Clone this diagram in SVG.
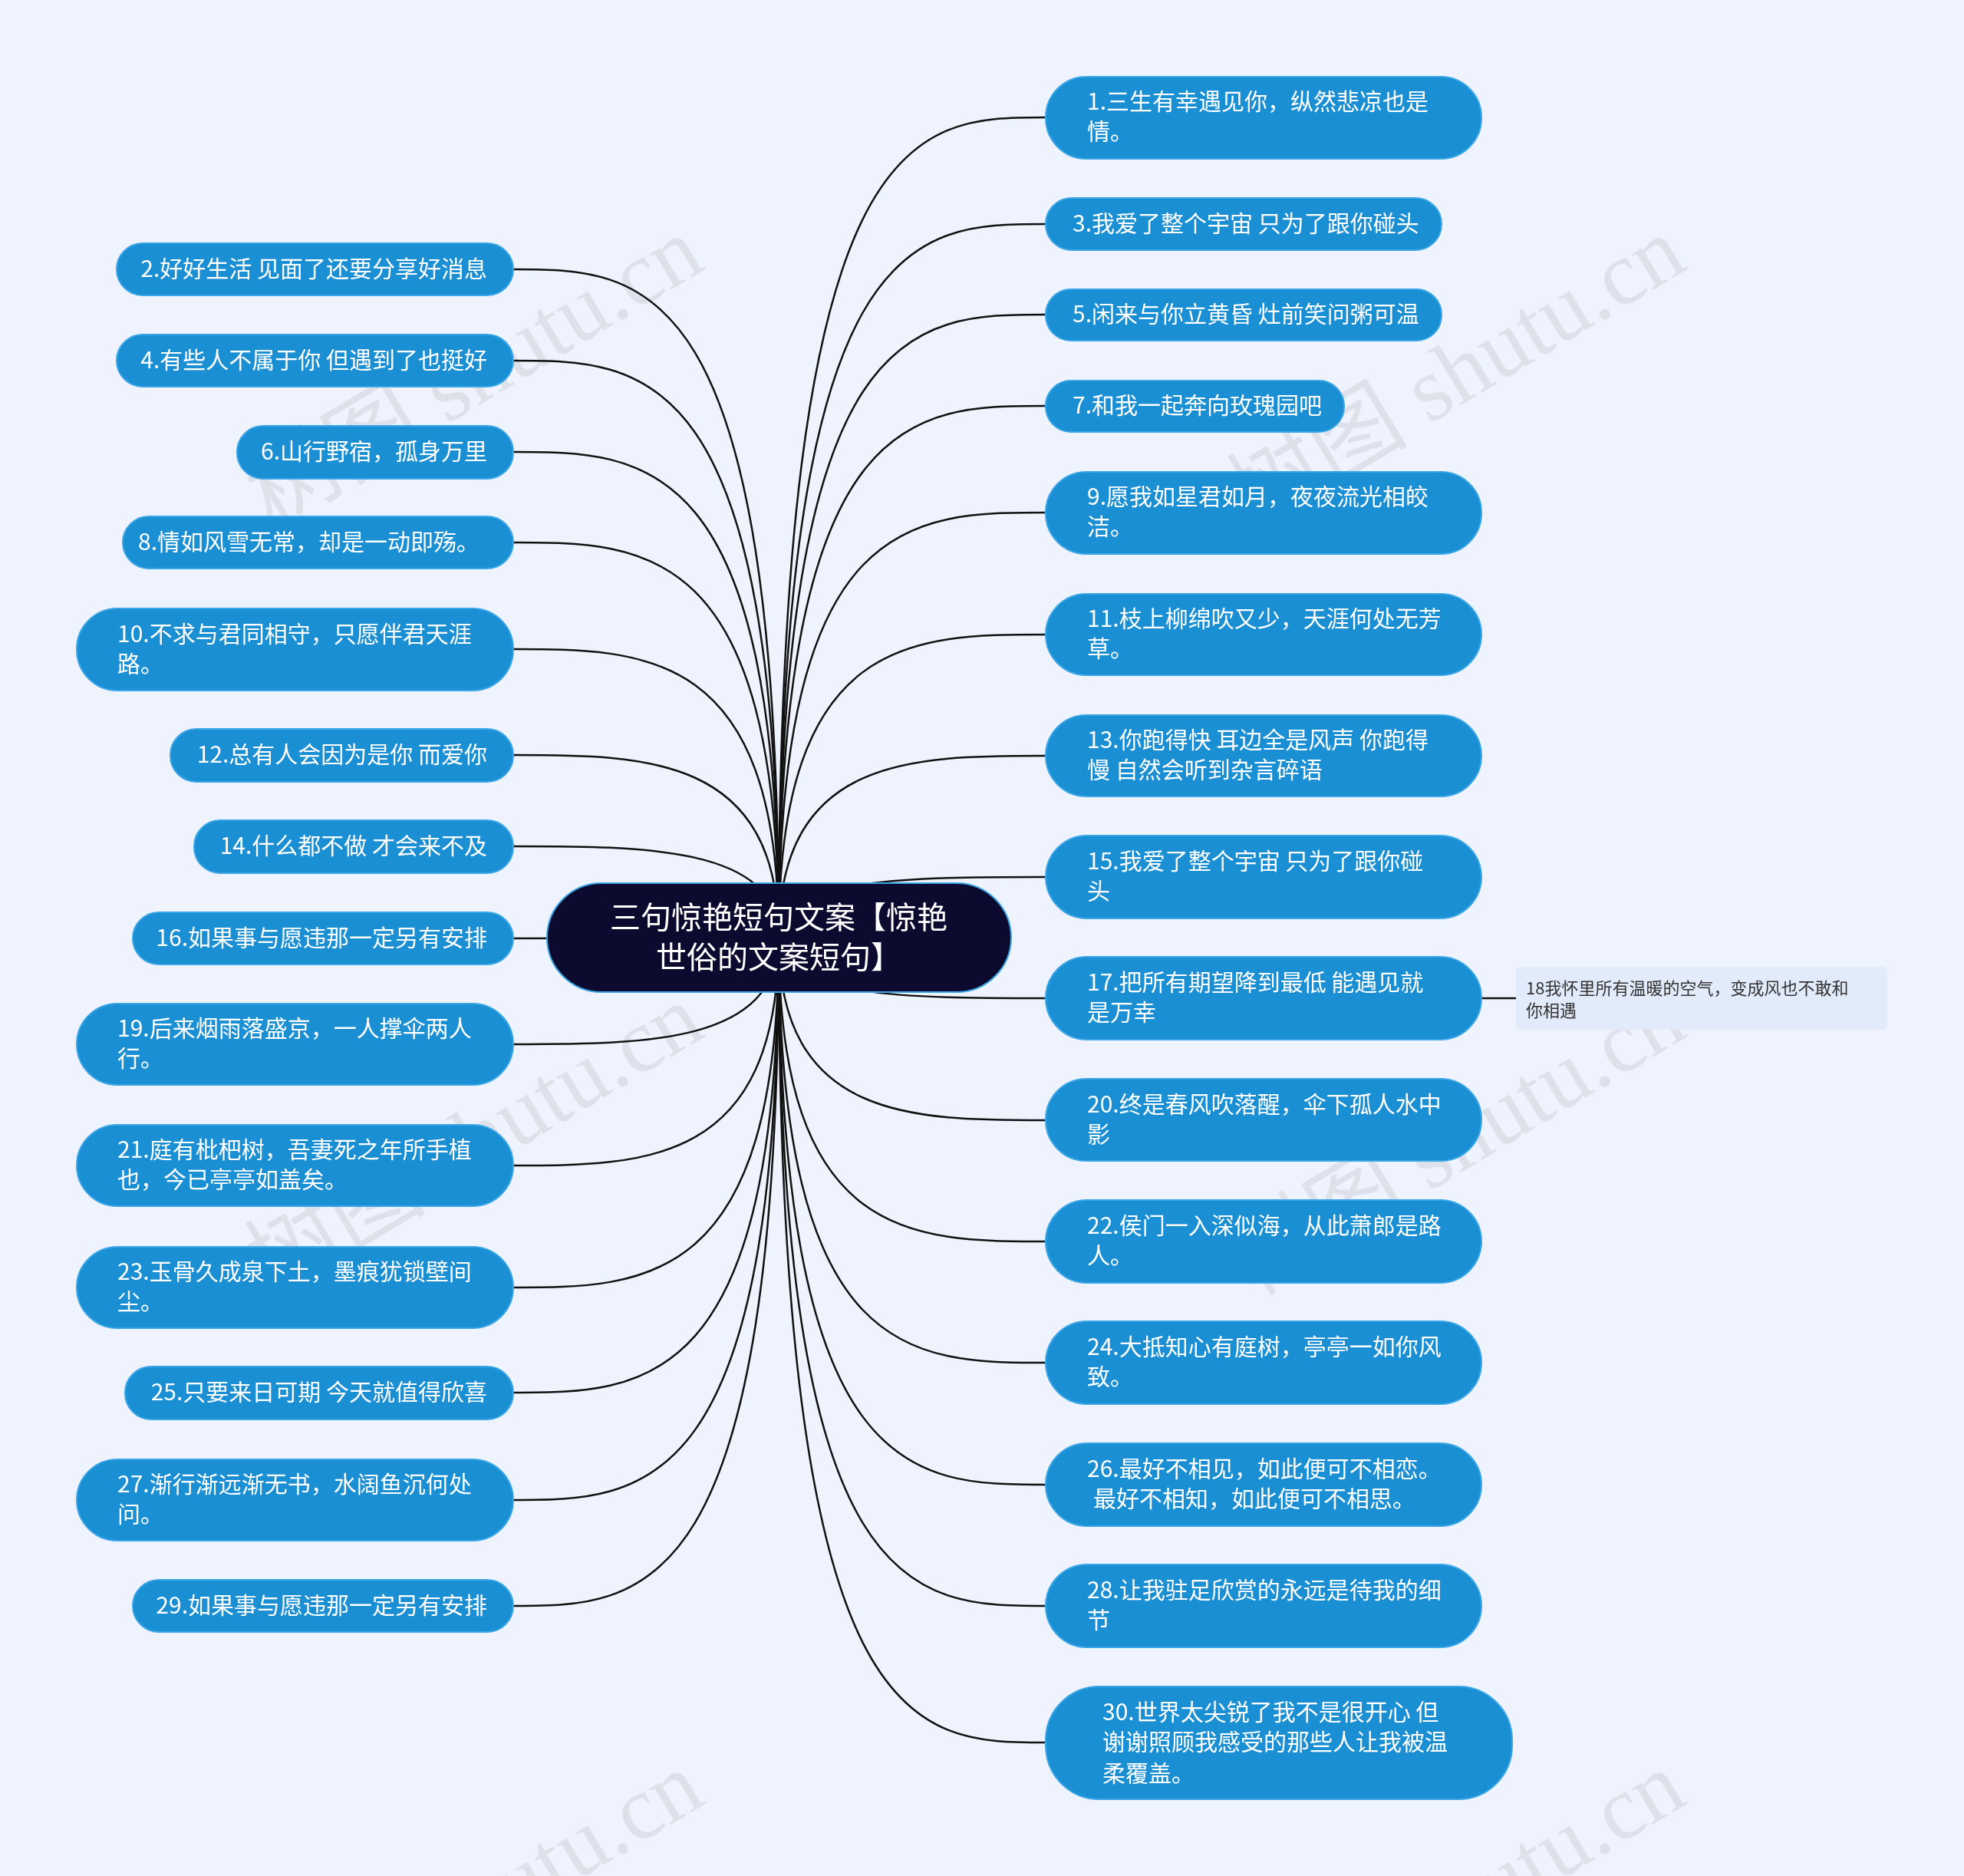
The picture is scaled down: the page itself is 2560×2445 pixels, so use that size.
<svg xmlns="http://www.w3.org/2000/svg" width="2560" height="2445" viewBox="0 0 2560 2445">
<style>
.n{fill:#1a8fd3;stroke:#3aa6e6;stroke-width:2}
.t{fill:#fff;font-family:"Noto Sans CJK SC","Noto Sans",sans-serif;font-size:30px}
.e{text-anchor:end}
.c{fill:none;stroke:#111;stroke-width:2.5}
.w{fill:#c9ccd3;opacity:.45;font-family:"Liberation Serif","Noto Sans CJK SC",serif;font-size:118px}
</style>
<rect width="2560" height="2445" fill="#eef3fd"/>
<g class="w">
<text transform="translate(355,690) rotate(-31)">树图 shutu.cn</text>
<text transform="translate(1635,690) rotate(-31)">树图 shutu.cn</text>
<text transform="translate(355,1690) rotate(-31)">树图 shutu.cn</text>
<text transform="translate(1635,1690) rotate(-31)">树图 shutu.cn</text>
<text transform="translate(355,2690) rotate(-31)">树图 shutu.cn</text>
<text transform="translate(1635,2690) rotate(-31)">树图 shutu.cn</text>
</g>
<g id="connectors">
<path class="c" d="M1015 1222C1015 153 1190 153 1363 153"/>
<path class="c" d="M1015 1222C1015 292 1190 292 1363 292"/>
<path class="c" d="M1015 1222C1015 410 1190 410 1363 410"/>
<path class="c" d="M1015 1222C1015 529 1190 529 1363 529"/>
<path class="c" d="M1015 1222C1015 668 1190 668 1363 668"/>
<path class="c" d="M1015 1222C1015 827 1190 827 1363 827"/>
<path class="c" d="M1015 1222C1015 985 1190 985 1363 985"/>
<path class="c" d="M1015 1222C1015 1143 1190 1143 1363 1143"/>
<path class="c" d="M1015 1222C1015 1301 1190 1301 1363 1301"/>
<path class="c" d="M1015 1222C1015 1460 1190 1460 1363 1460"/>
<path class="c" d="M1015 1222C1015 1618 1190 1618 1363 1618"/>
<path class="c" d="M1015 1222C1015 1776 1190 1776 1363 1776"/>
<path class="c" d="M1015 1222C1015 1935 1190 1935 1363 1935"/>
<path class="c" d="M1015 1222C1015 2093 1190 2093 1363 2093"/>
<path class="c" d="M1015 1222C1015 2271 1190 2271 1363 2271"/>
<path class="c" d="M1015 1222C1015 351 840 351 669 351"/>
<path class="c" d="M1015 1222C1015 470 840 470 669 470"/>
<path class="c" d="M1015 1222C1015 589 840 589 669 589"/>
<path class="c" d="M1015 1222C1015 707 840 707 669 707"/>
<path class="c" d="M1015 1222C1015 846 840 846 669 846"/>
<path class="c" d="M1015 1222C1015 984 840 984 669 984"/>
<path class="c" d="M1015 1222C1015 1103 840 1103 669 1103"/>
<path class="c" d="M1015 1222C1015 1223 840 1223 669 1223"/>
<path class="c" d="M1015 1222C1015 1361 840 1361 669 1361"/>
<path class="c" d="M1015 1222C1015 1519 840 1519 669 1519"/>
<path class="c" d="M1015 1222C1015 1678 840 1678 669 1678"/>
<path class="c" d="M1015 1222C1015 1815 840 1815 669 1815"/>
<path class="c" d="M1015 1222C1015 1955 840 1955 669 1955"/>
<path class="c" d="M1015 1222C1015 2093 840 2093 669 2093"/>
<path class="c" d="M1931 1301H1976"/>
</g>
<g id="center"><rect x="713" y="1151" width="605" height="142" rx="71" fill="#0c0a2e" stroke="#3aa6e6" stroke-width="2"/>
<text class="t" x="1015" y="1210" text-anchor="middle" style="font-size:40px">三句惊艳短句文案【惊艳</text>
<text class="t" x="1015" y="1262" text-anchor="middle" style="font-size:40px">世俗的文案短句】</text></g>
<g id="r1"><rect class="n" x="1363" y="100" width="568" height="107" rx="53"/><text class="t" x="1417" y="143">1.三生有幸遇见你，纵然悲凉也是</text><text class="t" x="1417" y="182">情。</text></g>
<g id="r3"><rect class="n" x="1363" y="258" width="516" height="68" rx="34"/><text class="t" x="1398" y="302">3.我爱了整个宇宙 只为了跟你碰头</text></g>
<g id="r5"><rect class="n" x="1363" y="377" width="516" height="67" rx="33"/><text class="t" x="1398" y="420">5.闲来与你立黄昏 灶前笑问粥可温</text></g>
<g id="r7"><rect class="n" x="1363" y="496" width="389" height="67" rx="33"/><text class="t" x="1398" y="539">7.和我一起奔向玫瑰园吧</text></g>
<g id="r9"><rect class="n" x="1363" y="615" width="568" height="107" rx="53"/><text class="t" x="1417" y="658">9.愿我如星君如月，夜夜流光相皎</text><text class="t" x="1417" y="697">洁。</text></g>
<g id="r11"><rect class="n" x="1363" y="774" width="568" height="106" rx="53"/><text class="t" x="1417" y="817">11.枝上柳绵吹又少，天涯何处无芳</text><text class="t" x="1417" y="856">草。</text></g>
<g id="r13"><rect class="n" x="1363" y="932" width="568" height="106" rx="53"/><text class="t" x="1417" y="975">13.你跑得快 耳边全是风声 你跑得</text><text class="t" x="1417" y="1014">慢 自然会听到杂言碎语</text></g>
<g id="r15"><rect class="n" x="1363" y="1089" width="568" height="108" rx="54"/><text class="t" x="1417" y="1133">15.我爱了整个宇宙 只为了跟你碰</text><text class="t" x="1417" y="1172">头</text></g>
<g id="r17"><rect class="n" x="1363" y="1247" width="568" height="108" rx="54"/><text class="t" x="1417" y="1291">17.把所有期望降到最低 能遇见就</text><text class="t" x="1417" y="1330">是万幸</text></g>
<g id="n18"><rect x="1976" y="1260" width="484" height="82" rx="6" fill="#e2ebfa"/><text x="1989" y="1296" font-size="22" fill="#333" font-family="Noto Sans CJK SC,sans-serif">18我怀里所有温暖的空气，变成风也不敢和</text><text x="1989" y="1325" font-size="22" fill="#333" font-family="Noto Sans CJK SC,sans-serif">你相遇</text></g>
<g id="r20"><rect class="n" x="1363" y="1406" width="568" height="107" rx="53"/><text class="t" x="1417" y="1450">20.终是春风吹落醒，伞下孤人水中</text><text class="t" x="1417" y="1489">影</text></g>
<g id="r22"><rect class="n" x="1363" y="1564" width="568" height="108" rx="54"/><text class="t" x="1417" y="1608">22.侯门一入深似海，从此萧郎是路</text><text class="t" x="1417" y="1647">人。</text></g>
<g id="r24"><rect class="n" x="1363" y="1722" width="568" height="108" rx="54"/><text class="t" x="1417" y="1766">24.大抵知心有庭树，亭亭一如你风</text><text class="t" x="1417" y="1805">致。</text></g>
<g id="r26"><rect class="n" x="1363" y="1881" width="568" height="108" rx="54"/><text class="t" x="1417" y="1925">26.最好不相见，如此便可不相恋。</text><text class="t" x="1425" y="1964">最好不相知，如此便可不相思。</text></g>
<g id="r28"><rect class="n" x="1363" y="2039" width="568" height="108" rx="54"/><text class="t" x="1417" y="2083">28.让我驻足欣赏的永远是待我的细</text><text class="t" x="1417" y="2122">节</text></g>
<g id="r30"><rect class="n" x="1363" y="2198" width="608" height="147" rx="70"/><text class="t" x="1437" y="2242">30.世界太尖锐了我不是很开心 但</text><text class="t" x="1437" y="2281">谢谢照顾我感受的那些人让我被温</text><text class="t" x="1437" y="2322">柔覆盖。</text></g>
<g id="l2"><rect class="n" x="152" y="317" width="517" height="68" rx="34"/><text class="t e" x="635" y="361">2.好好生活 见面了还要分享好消息</text></g>
<g id="l4"><rect class="n" x="152" y="436" width="517" height="68" rx="34"/><text class="t e" x="635" y="480">4.有些人不属于你 但遇到了也挺好</text></g>
<g id="l6"><rect class="n" x="309" y="555" width="360" height="69" rx="34"/><text class="t e" x="635" y="599">6.山行野宿，孤身万里</text></g>
<g id="l8"><rect class="n" x="160" y="673" width="509" height="68" rx="34"/><text class="t e" x="625" y="717">8.情如风雪无常，却是一动即殇。</text></g>
<g id="l10"><rect class="n" x="100" y="793" width="569" height="107" rx="53"/><text class="t" x="153" y="837">10.不求与君同相守，只愿伴君天涯</text><text class="t" x="153" y="876">路。</text></g>
<g id="l12"><rect class="n" x="222" y="950" width="447" height="69" rx="34"/><text class="t e" x="635" y="994">12.总有人会因为是你 而爱你</text></g>
<g id="l14"><rect class="n" x="253" y="1069" width="416" height="69" rx="34"/><text class="t e" x="635" y="1113">14.什么都不做 才会来不及</text></g>
<g id="l16"><rect class="n" x="173" y="1189" width="496" height="68" rx="34"/><text class="t e" x="635" y="1233">16.如果事与愿违那一定另有安排</text></g>
<g id="l19"><rect class="n" x="100" y="1308" width="569" height="106" rx="53"/><text class="t" x="153" y="1351">19.后来烟雨落盛京，一人撑伞两人</text><text class="t" x="153" y="1390">行。</text></g>
<g id="l21"><rect class="n" x="100" y="1466" width="569" height="106" rx="53"/><text class="t" x="153" y="1509">21.庭有枇杷树，吾妻死之年所手植</text><text class="t" x="153" y="1548">也，今已亭亭如盖矣。</text></g>
<g id="l23"><rect class="n" x="100" y="1625" width="569" height="106" rx="53"/><text class="t" x="153" y="1668">23.玉骨久成泉下土，墨痕犹锁壁间</text><text class="t" x="153" y="1707">尘。</text></g>
<g id="l25"><rect class="n" x="163" y="1781" width="506" height="69" rx="34"/><text class="t e" x="635" y="1825">25.只要来日可期 今天就值得欣喜</text></g>
<g id="l27"><rect class="n" x="100" y="1902" width="569" height="106" rx="53"/><text class="t" x="153" y="1945">27.渐行渐远渐无书，水阔鱼沉何处</text><text class="t" x="153" y="1984">问。</text></g>
<g id="l29"><rect class="n" x="173" y="2059" width="496" height="68" rx="34"/><text class="t e" x="635" y="2103">29.如果事与愿违那一定另有安排</text></g>
</svg>
